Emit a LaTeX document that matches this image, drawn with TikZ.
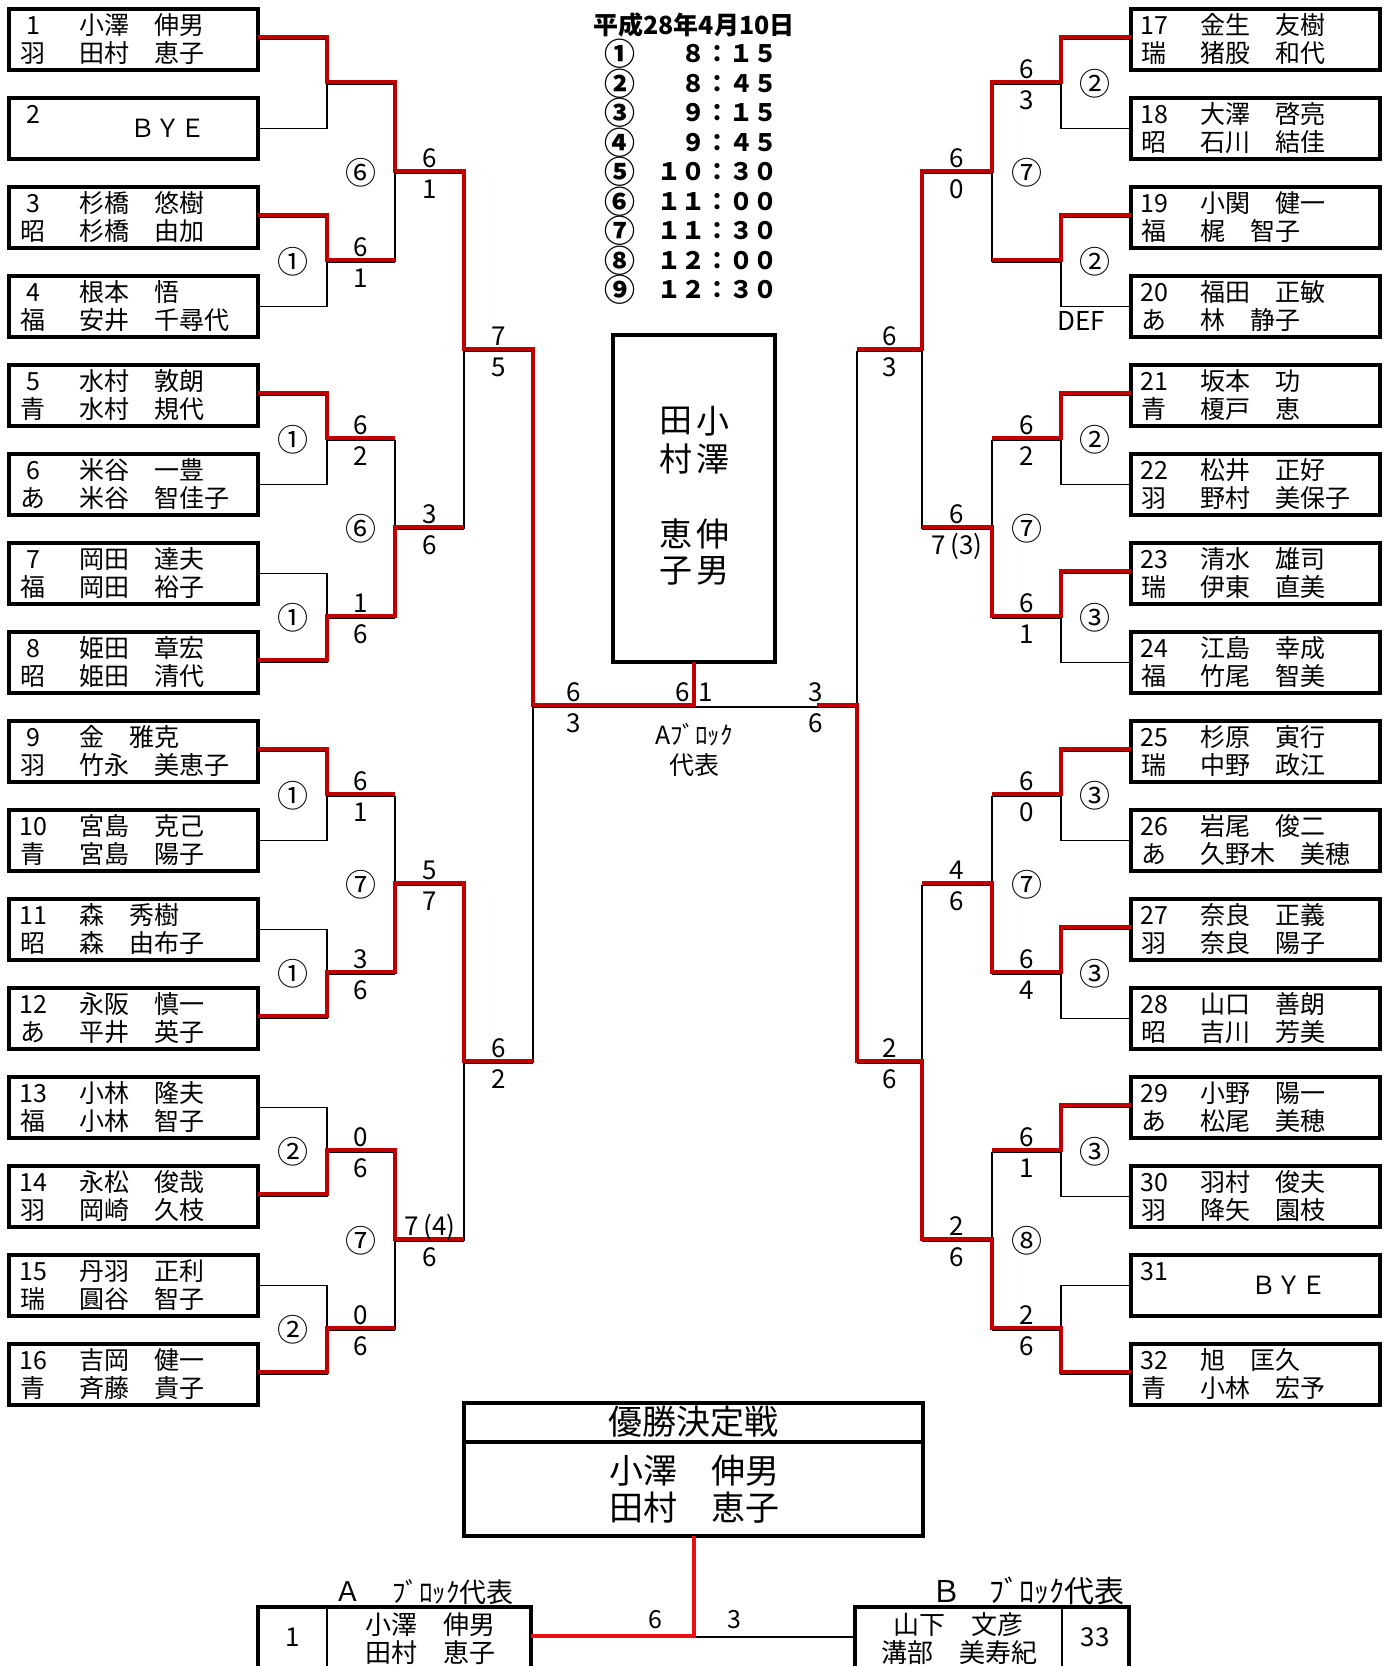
\documentclass[tikz,border=0pt]{standalone}
\usepackage{fontspec}
\setmainfont{Noto Sans CJK JP}
\usetikzlibrary{calc}
\definecolor{wred}{RGB}{192,0,0}
\definecolor{fred}{RGB}{232,16,16}
\begin{document}
\begin{tikzpicture}[x=1pt,y=-1pt,
  box/.style={draw,line width=3.2pt,minimum width=249pt,minimum height=61pt,inner sep=0pt,outer sep=0pt},
  br/.style={line width=1.6pt},
  win/.style={draw=wred,line width=4pt},
  nm/.style={anchor=base west,inner sep=0pt,font=\fontsize{25}{25}\selectfont},
  nb/.style={anchor=base,inner sep=0pt,font=\fontsize{25}{25}\selectfont},
  sc/.style={anchor=base,inner sep=0pt,font=\fontsize{26}{26}\selectfont},
  cn/.style={anchor=center,inner sep=0pt,font=\fontsize{31}{31}\selectfont},
  bye/.style={anchor=west,inner sep=0pt,font=\fontsize{25}{25}\selectfont},
  vt/.style={anchor=center,inner sep=0pt,font=\fontsize{33}{33}\selectfont},
  hd/.style={inner sep=0pt,font=\bfseries\fontsize{24}{24}\selectfont},
  hc/.style={inner sep=0pt,font=\bfseries\fontsize{31}{31}\selectfont}
]
\useasboundingbox (0,0) rectangle (1386,1666);
\fill[white] (0,0) rectangle (1386,1666);

% ---------------- left boxes ----------------
\foreach \i/\af/\la/\lb in {1/羽/小澤　伸男/田村　恵子, 3/昭/杉橋　悠樹/杉橋　由加, 4/福/根本　悟/安井　千尋代, 5/青/水村　敦朗/水村　規代, 6/あ/米谷　一豊/米谷　智佳子, 7/福/岡田　達夫/岡田　裕子, 8/昭/姫田　章宏/姫田　清代, 9/羽/金　雅克/竹永　美恵子, 10/青/宮島　克己/宮島　陽子, 11/昭/森　秀樹/森　由布子, 12/あ/永阪　慎一/平井　英子, 13/福/小林　隆夫/小林　智子, 14/羽/永松　俊哉/岡崎　久枝, 15/瑞/丹羽　正利/圓谷　智子, 16/青/吉岡　健一/斉藤　貴子}{
  \pgfmathsetmacro\yt{9+89*(\i-1)}
  \node[box] (b\i) at (133.5,\yt+30.5) {};
  \node[nb] (n\i) at (33,\yt+25.5) {\i};
  \node[nb] (a\i) at (33,\yt+53.5) {\af};
  \node[nm] (p\i) at (79,\yt+25.5) {\la};
  \node[nm] (q\i) at (79,\yt+53.5) {\lb};
}
\node[box] (b2) at (133.5,128.5) {};
\node[nb] (n2) at (33,123.5) {2};
\node[bye] (y2) at (130,128.5) {ＢＹＥ};

% ---------------- right boxes ----------------
\foreach \i/\af/\la/\lb in {17/瑞/金生　友樹/猪股　和代, 18/昭/大澤　啓亮/石川　結佳, 19/福/小関　健一/梶　智子, 20/あ/福田　正敏/林　静子, 21/青/坂本　功/榎戸　恵, 22/羽/松井　正好/野村　美保子, 23/瑞/清水　雄司/伊東　直美, 24/福/江島　幸成/竹尾　智美, 25/瑞/杉原　寅行/中野　政江, 26/あ/岩尾　俊二/久野木　美穂, 27/羽/奈良　正義/奈良　陽子, 28/昭/山口　善朗/吉川　芳美, 29/あ/小野　陽一/松尾　美穂, 30/羽/羽村　俊夫/降矢　園枝, 32/青/旭　匡久/小林　宏予}{
  \pgfmathsetmacro\yt{9+89*(\i-17)}
  \node[box] (b\i) at (1255.5,\yt+30.5) {};
  \node[nb] (n\i) at (1154,\yt+25.5) {\i};
  \node[nb] (a\i) at (1154,\yt+53.5) {\af};
  \node[nm] (p\i) at (1200,\yt+25.5) {\la};
  \node[nm] (q\i) at (1200,\yt+53.5) {\lb};
}
\node[box] (b31) at (1255.5,1285.5) {};
\node[nb] (n31) at (1154,1280.5) {31};
\node[bye] (y31) at (1251,1285.5) {ＢＹＥ};

% ---------------- bracket lines ----------------
\foreach \k in {1,...,8}{
  \pgfmathtruncatemacro\ia{2*\k-1}
  \pgfmathtruncatemacro\ib{2*\k}
  \pgfmathtruncatemacro\ja{2*\k+15}
  \pgfmathtruncatemacro\jb{2*\k+16}
  \coordinate (LA\k) at (327,178*\k-94);
  \coordinate (LB\k) at (395,178*\k-94);
  \coordinate (RA\k) at (1061,178*\k-94);
  \coordinate (RB\k) at (992,178*\k-94);
  \draw[br] (b\ia.east) -| (LA\k) |- (b\ib.east);
  \draw[br] (LA\k) -- (LB\k);
  \draw[br] (b\ja.west) -| (RA\k) |- (b\jb.west);
  \draw[br] (RA\k) -- (RB\k);
}
\foreach \k in {1,...,4}{
  \pgfmathtruncatemacro\ia{2*\k-1}
  \pgfmathtruncatemacro\ib{2*\k}
  \coordinate (LC\k) at (395,356*\k-183);
  \coordinate (LD\k) at (464,356*\k-183);
  \coordinate (RC\k) at (992,356*\k-183);
  \coordinate (RD\k) at (922,356*\k-183);
  \draw[br] (LB\ia) -- (LB\ib);
  \draw[br] (LC\k) -- (LD\k);
  \draw[br] (RB\ia) -- (RB\ib);
  \draw[br] (RC\k) -- (RD\k);
}
\foreach \k in {1,2}{
  \pgfmathtruncatemacro\ia{2*\k-1}
  \pgfmathtruncatemacro\ib{2*\k}
  \coordinate (LE\k) at (464,712*\k-361);
  \coordinate (LF\k) at (533,712*\k-361);
  \coordinate (RE\k) at (922,712*\k-361);
  \coordinate (RF\k) at (857,712*\k-361);
  \draw[br] (LD\ia) -- (LD\ib);
  \draw[br] (LE\k) -- (LF\k);
  \draw[br] (RD\ia) -- (RD\ib);
  \draw[br] (RE\k) -- (RF\k);
}
\coordinate (LG) at (533,707);
\coordinate (RG) at (857,707);
\coordinate (CJ) at (694,707);
\coordinate (RX) at (817,707);
\draw[br] (LF1) -- (LF2);
\draw[br] (RF1) -- (RF2);
\draw[br] (LG) -- (RG);

% center box
\node[box,minimum width=162pt,minimum height=327pt] (cb) at (694,498.5) {};
\node[vt] (v1) at (713,421) {小};
\node[vt] (v2) at (713,459) {澤};
\node[vt] (v3) at (713,534) {伸};
\node[vt] (v4) at (713,571) {男};
\node[vt] (v5) at (676,421) {田};
\node[vt] (v6) at (676,459) {村};
\node[vt] (v7) at (676,534) {恵};
\node[vt] (v8) at (676,571) {子};

% ---------------- winner paths ----------------
\draw[win] ([yshift=2.5pt]b1.east) -| ([yshift=2.5pt]LA1) -- ([yshift=2.5pt]LB1) -- ([yshift=2.5pt]LC1) -- ([yshift=2.5pt]LD1) -- ([yshift=2.5pt]LE1) -- ([yshift=2.5pt]LF1) -- ([yshift=2.5pt]LG) -- ([yshift=2.5pt]CJ) -- (cb.south);
\draw[win] ([yshift=2.5pt]b3.east) -| ([yshift=2.5pt]LA2) -- ([yshift=2.5pt]LB2);
\draw[win] ([yshift=2.5pt]b5.east) -| ([yshift=2.5pt]LA3) -- ([yshift=2.5pt]LB3);
\draw[win] ([yshift=2.5pt]b8.east) -| ([yshift=2.5pt]LA4) -- ([yshift=2.5pt]LB4) -- ([yshift=2.5pt]LC2) -- ([yshift=2.5pt]LD2);
\draw[win] ([yshift=2.5pt]b9.east) -| ([yshift=2.5pt]LA5) -- ([yshift=2.5pt]LB5);
\draw[win] ([yshift=2.5pt]b12.east) -| ([yshift=2.5pt]LA6) -- ([yshift=2.5pt]LB6) -- ([yshift=2.5pt]LC3) -- ([yshift=2.5pt]LD3) -- ([yshift=2.5pt]LE2) -- ([yshift=2.5pt]LF2);
\draw[win] ([yshift=2.5pt]b14.east) -| ([yshift=2.5pt]LA7) -- ([yshift=2.5pt]LB7) -- ([yshift=2.5pt]LC4) -- ([yshift=2.5pt]LD4);
\draw[win] ([yshift=2.5pt]b16.east) -| ([yshift=2.5pt]LA8) -- ([yshift=2.5pt]LB8);

\draw[win] ([yshift=2.5pt]b17.west) -| ([yshift=2.5pt]RA1) -- ([yshift=2.5pt]RB1) -- ([yshift=2.5pt]RC1) -- ([yshift=2.5pt]RD1) -- ([yshift=2.5pt]RE1) -- ([yshift=2.5pt]RF1);
\draw[win] ([yshift=2.5pt]b19.west) -| ([yshift=2.5pt]RA2) -- ([yshift=2.5pt]RB2);
\draw[win] ([yshift=2.5pt]b21.west) -| ([yshift=2.5pt]RA3) -- ([yshift=2.5pt]RB3);
\draw[win] ([yshift=2.5pt]b23.west) -| ([yshift=2.5pt]RA4) -- ([yshift=2.5pt]RB4) -- ([yshift=2.5pt]RC2) -- ([yshift=2.5pt]RD2);
\draw[win] ([yshift=2.5pt]b25.west) -| ([yshift=2.5pt]RA5) -- ([yshift=2.5pt]RB5);
\draw[win] ([yshift=2.5pt]b27.west) -| ([yshift=2.5pt]RA6) -- ([yshift=2.5pt]RB6) -- ([yshift=2.5pt]RC3) -- ([yshift=2.5pt]RD3);
\draw[win] ([yshift=2.5pt]b29.west) -| ([yshift=2.5pt]RA7) -- ([yshift=2.5pt]RB7);
\draw[win] ([yshift=2.5pt]b32.west) -| ([yshift=2.5pt]RA8) -- ([yshift=2.5pt]RB8) -- ([yshift=2.5pt]RC4) -- ([yshift=2.5pt]RD4) -- ([yshift=2.5pt]RE2) -- ([yshift=2.5pt]RF2) -- ([yshift=2.5pt]RG) -- ([yshift=2.5pt]RX);

% ---------------- match numbers ----------------
\foreach \k/\c in {2/①,3/①,4/①,5/①,6/①,7/②,8/②}{
  \node[cn] (lmA\k) at (292.5,178*\k-94) {\c};
}
\foreach \k/\c in {1/⑥,2/⑥,3/⑦,4/⑦}{
  \node[cn] (lmB\k) at (361,356*\k-183) {\c};
}
\foreach \k/\c in {1/②,2/②,3/②,4/③,5/③,6/③,7/③}{
  \node[cn] (rmA\k) at (1095,178*\k-94) {\c};
}
\foreach \k/\c in {1/⑦,2/⑦,3/⑦,4/⑧}{
  \node[cn] (rmB\k) at (1026.5,356*\k-183) {\c};
}

% ---------------- scores ----------------
\foreach \n/\x/\y/\sa/\sb in {
  1/361/262/6/1, 2/361/440/6/2, 3/361/618/1/6, 4/361/796/6/1, 5/361/974/3/6, 6/361/1152/0/6, 7/361/1330/0/6,
  8/430/173/6/1, 9/430/529/3/6, 10/430/885/5/7, 11/430/1241/7\,(4)/6,
  12/498.5/351/7/5, 13/498.5/1063/6/2, 14/574/707/6/3, 15/816/707/3/6,
  16/1027/84/6/3, 17/1027/440/6/2, 18/1027/618/6/1, 19/1027/796/6/0, 20/1027/974/6/4, 21/1027/1152/6/1, 22/1027/1330/2/6,
  23/957/173/6/0, 24/957/529/6/7\,(3), 25/957/885/4/6, 26/957/1241/2/6,
  27/889.5/351/6/3, 28/889.5/1063/2/6}{
  \node[sc] (su\n) at (\x,\y-6) {\sa};
  \node[sc] (sd\n) at (\x,\y+25) {\sb};
}
\node[sc] (cs6) at (683,701) {6};
\node[sc] (cs1) at (706,701) {1};
\node[sc] (def) at (1081,330) {DEF};
\node[inner sep=0pt,font=\fontsize{25}{25}\selectfont] (abl) at (694,735) {Aﾌﾞﾛｯｸ};
\node[inner sep=0pt,font=\fontsize{25}{25}\selectfont] (abl2) at (694,765) {代表};

% ---------------- schedule ----------------
\node[hd,font=\bfseries\fontsize{25}{25}\selectfont] (date) at (694,25) {平成28年4月10日};
\foreach \j/\c/\t in {1/①/８：１５, 2/②/８：４５, 3/③/９：１５, 4/④/９：４５, 5/⑤/１０：３０, 6/⑥/１１：００, 7/⑦/１１：３０, 8/⑧/１２：００, 9/⑨/１２：３０}{
  \node[hc] (sn\j) at (620,24.5+29.5*\j) {\c};
  \node[hd,anchor=east] (st\j) at (778,24.5+29.5*\j) {\t};
}

% ---------------- final ----------------
\node[draw,line width=3.2pt,minimum width=459pt,minimum height=133pt,inner sep=0pt,outer sep=0pt] (fb) at (693.5,1469.5) {};
\draw[line width=3.2pt] ($(fb.north west)+(0,39)$) -- ($(fb.north east)+(0,39)$);
\node[inner sep=0pt,font=\fontsize{34}{34}\selectfont] (fh) at (693.5,1422) {優勝決定戦};
\node[inner sep=0pt,font=\fontsize{34}{34}\selectfont] (fn1) at (694,1471) {小澤　伸男};
\node[inner sep=0pt,font=\fontsize{34}{34}\selectfont] (fn2) at (694,1508) {田村　恵子};

\node[draw,line width=3.2pt,minimum width=273pt,minimum height=120pt,inner sep=0pt,outer sep=0pt] (ab) at (394.5,1667) {};
\draw[line width=2.5pt] ($(ab.north west)+(69,0)$) -- ($(ab.south west)+(69,0)$);
\node[inner sep=0pt,font=\fontsize{26}{26}\selectfont] (an) at (293,1637) {1};
\node[inner sep=0pt,font=\fontsize{26}{26}\selectfont] (ap1) at (430,1625) {小澤　伸男};
\node[inner sep=0pt,font=\fontsize{26}{26}\selectfont] (ap2) at (430,1653) {田村　恵子};
\node[inner sep=0pt,font=\fontsize{27}{27}\selectfont] (alA) at (348,1592) {Ａ};
\node[anchor=west,inner sep=0pt,font=\fontsize{27}{27}\selectfont] (alB) at (392,1592) {ﾌﾞﾛｯｸ代表};

\node[draw,line width=3.2pt,minimum width=274pt,minimum height=120pt,inner sep=0pt,outer sep=0pt] (bb) at (992,1667) {};
\draw[line width=2.5pt] ($(bb.north east)+(-67,0)$) -- ($(bb.south east)+(-67,0)$);
\node[inner sep=0pt,font=\fontsize{26}{26}\selectfont] (bn) at (1095,1637) {33};
\node[inner sep=0pt,font=\fontsize{26}{26}\selectfont] (bp1) at (958,1625) {山下　文彦};
\node[inner sep=0pt,font=\fontsize{26}{26}\selectfont] (bp2) at (959,1653) {溝部　美寿紀};
\node[inner sep=0pt,font=\fontsize{30}{30}\selectfont] (blA) at (946,1591) {Ｂ};
\node[anchor=west,inner sep=0pt,font=\fontsize{30}{30}\selectfont] (blB) at (989,1591) {ﾌﾞﾛｯｸ代表};

\coordinate (AE) at ($(ab.north east)+(0,30)$);
\coordinate (BW) at ($(bb.north west)+(0,30)$);
\coordinate (FJ) at (693.5,1637);
\draw[br] (AE) -- (BW);
\draw[draw=fred,line width=4pt] ([yshift=1.5pt]AE) -- ([yshift=1.5pt]FJ) -- (fb.south);
\node[inner sep=0pt,font=\fontsize{25}{25}\selectfont] (fs6) at (655,1620) {6};
\node[inner sep=0pt,font=\fontsize{25}{25}\selectfont] (fs3) at (734,1620) {3};
\end{tikzpicture}
\end{document}
